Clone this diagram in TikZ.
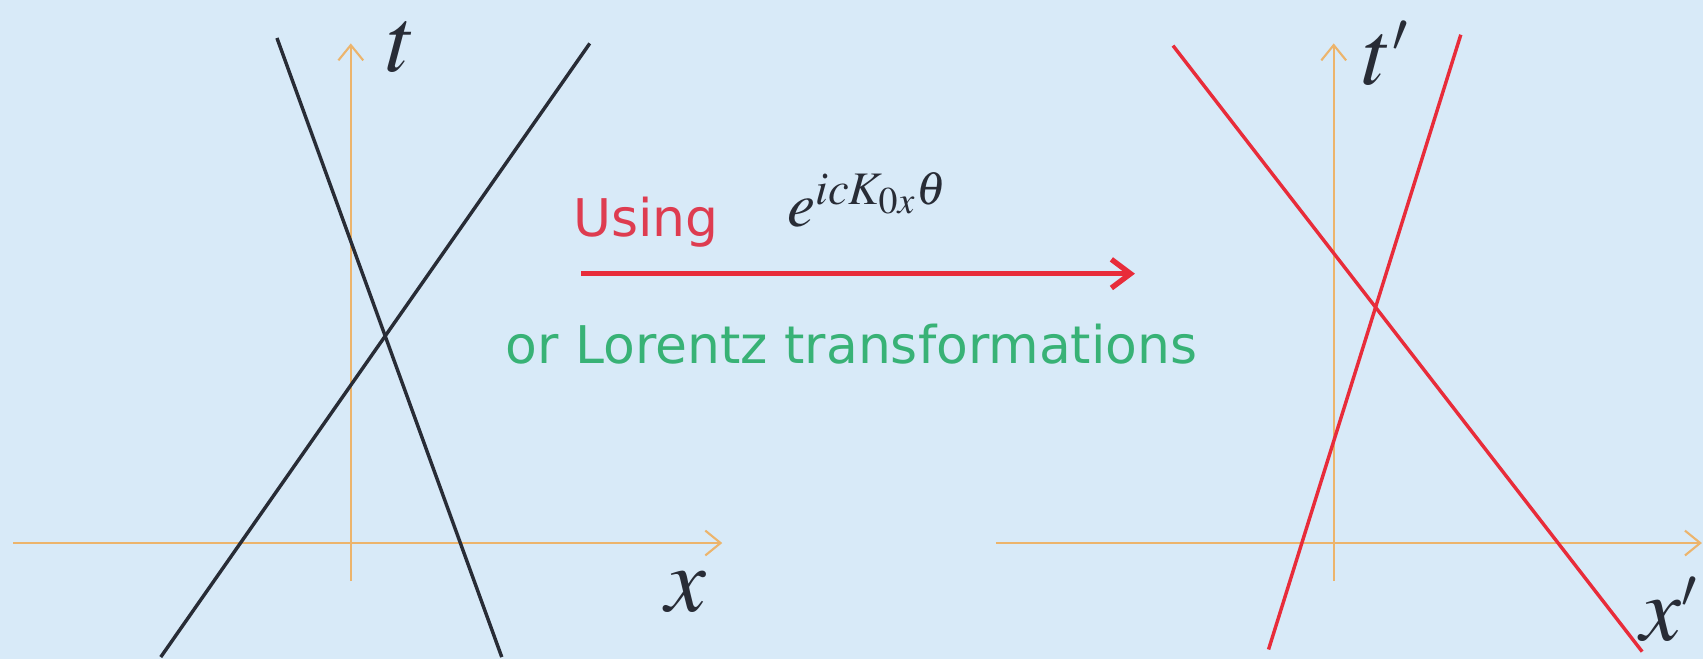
\documentclass[tikz,border=0pt]{standalone}
\usepackage{mathptmx}
\usepackage{fontspec}
\setsansfont{DejaVu Sans}
\usepackage{xcolor}
\usetikzlibrary{arrows.meta}

\definecolor{bgblue}{RGB}{216,234,248}
\definecolor{axisorange}{RGB}{236,180,108}
\definecolor{inkblack}{RGB}{40,44,54}
\definecolor{linered}{RGB}{232,44,58}
\definecolor{usingred}{RGB}{222,60,80}
\definecolor{lorgreen}{RGB}{56,178,118}

\begin{document}
\begin{tikzpicture}[x=0.01cm, y=0.01cm,
  axis/.style={draw=axisorange, line width=0.55pt, -{Straight Barb[length=4pt,width=6.5pt]}},
  worldline/.style={line width=0.9pt},
  lbl/.style={font=\fontsize{24}{24}\selectfont, text=inkblack, inner sep=0pt, anchor=base west},
  words/.style={font=\sffamily\fontsize{13.6}{15}\selectfont, inner sep=0pt, anchor=base west}]

\fill[bgblue] (0,0) rectangle (1568,607);
\useasboundingbox (0,0) rectangle (1568,607);

% rest frame
\coordinate (xs) at (12,107);
\coordinate (xe) at (665,107);
\coordinate (ts) at (323,72);
\coordinate (te) at (323,567);
\draw[axis] (xs) -- (xe);
\draw[axis] (ts) -- (te);
\node[lbl] (t) at (355,541) {$t$};
\node[lbl] (x) at (612,44) {$x$};
\coordinate (a1) at (255,572);
\coordinate (a2) at (462,2);
\coordinate (b1) at (148,2);
\coordinate (b2) at (543,567);
\draw[worldline, inkblack] (a1) -- (a2);
\draw[worldline, inkblack] (b1) -- (b2);

% the map
\node[words, text=usingred] (using) at (527,389) {Using};
\node[anchor=base west, inner sep=0pt, font=\fontsize{16.5}{20}\selectfont, text=inkblack] (boost) at (724,398) {$e^{icK_{0x}\theta}$};
\coordinate (ms) at (535,355);
\coordinate (me) at (1045,355);
\draw[draw=linered, line width=1.4pt, -{Straight Barb[length=5pt,width=7.5pt]}] (ms) -- (me);
\node[words, text=lorgreen] (lorentz) at (465,272) {or Lorentz transformations};

% boosted frame
\coordinate (xps) at (917,107);
\coordinate (xpe) at (1567,107);
\coordinate (tps) at (1228,72);
\coordinate (tpe) at (1228,567);
\draw[axis] (xps) -- (xpe);
\draw[axis] (tps) -- (tpe);
\node[lbl] (tp) at (1254,529) {$t^{\scriptscriptstyle\prime}$};
\node[lbl] (xp) at (1510,17) {$x^{\scriptscriptstyle\prime}$};
\coordinate (c1) at (1080,565);
\coordinate (c2) at (1512,7);
\coordinate (d1) at (1168,9);
\coordinate (d2) at (1345,575);
\draw[worldline, linered] (c1) -- (c2);
\draw[worldline, linered] (d1) -- (d2);
\end{tikzpicture}
\end{document}
